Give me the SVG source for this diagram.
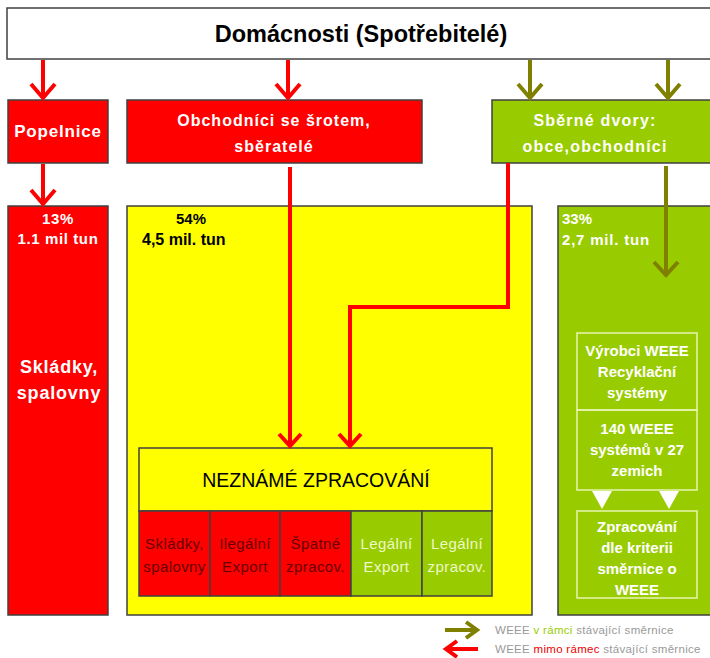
<svg xmlns="http://www.w3.org/2000/svg" width="710" height="658" viewBox="0 0 710 658">
<defs>
<style>
text{font-family:"Liberation Sans",Arial,sans-serif;}
.b{font-weight:bold;}
.w{fill:#ffffff;}
.bx{stroke:#404040;stroke-width:1.5;}
.red{fill:#ff0000;}
.yel{fill:#ffff00;}
.grn{fill:#99cc00;}
.ra{fill:none;stroke:#ff0000;stroke-width:4;}
.oa{fill:none;stroke:#808000;stroke-width:4;}
.wl{fill:none;stroke:#e8f5b0;stroke-width:1.5;}
.cell{font-size:15px;letter-spacing:0.4px;}
.in{font-size:15px;font-weight:bold;fill:#ffffff;}
</style>
</defs>
<rect width="710" height="658" fill="#ffffff"/>

<g id="domacnosti">
<rect x="7" y="8" width="710" height="51" fill="#ffffff" class="bx"/>
<text x="361" y="42" font-size="23.5" class="b" text-anchor="middle">Domácnosti (Spotřebitelé)</text>
</g>

<g id="popelnice">
<rect x="8" y="100" width="100" height="63" class="red bx"/>
<text x="58" y="137" font-size="17" class="b w" text-anchor="middle" letter-spacing="0.8">Popelnice</text>
</g>

<g id="obchodnici">
<rect x="127" y="100" width="295" height="63" class="red bx"/>
<text x="274" y="126" font-size="16" class="b w" text-anchor="middle" letter-spacing="1">Obchodníci se šrotem,</text>
<text x="274" y="152" font-size="16" class="b w" text-anchor="middle" letter-spacing="1">sběratelé</text>
</g>

<g id="sberne">
<rect x="492" y="100" width="225" height="63" class="grn bx"/>
<text x="595" y="126" font-size="16" class="b w" text-anchor="middle" letter-spacing="1.2">Sběrné dvory:</text>
<text x="595" y="152" font-size="16" class="b w" text-anchor="middle" letter-spacing="1.2">obce,obchodníci</text>
</g>

<g id="skladky">
<rect x="8" y="206" width="100" height="409" class="red bx"/>
<text x="58" y="224" font-size="15" class="b w" text-anchor="middle" letter-spacing="0.6">13%</text>
<text x="58" y="244" font-size="15" class="b w" text-anchor="middle" letter-spacing="0.6">1.1 mil tun</text>
<text x="59" y="373" font-size="18" class="b w" text-anchor="middle" letter-spacing="0.8">Skládky,</text>
<text x="59" y="399" font-size="18" class="b w" text-anchor="middle" letter-spacing="0.8">spalovny</text>
</g>

<g id="zluty">
<rect x="127" y="206" width="405" height="409" class="yel bx"/>
<text x="176" y="224" font-size="15" class="b" font-family="Liberation Serif">54%</text>
<text x="142" y="245" font-size="16" class="b">4,5 mil. tun</text>
</g>

<g id="zeleny">
<rect x="558" y="206" width="160" height="409" class="grn bx"/>
<text x="562" y="224" font-size="15" class="b w">33%</text>
<text x="562" y="245" font-size="15" class="b w" letter-spacing="0.8">2,7 mil. tun</text>
</g>

<g id="nezname">
<rect x="139" y="448" width="353" height="63" class="yel bx"/>
<text x="316" y="487" font-size="19.5" text-anchor="middle">NEZNÁMÉ ZPRACOVÁNÍ</text>
</g>

<g id="cell1">
<rect x="139" y="511" width="71" height="85" class="red bx"/>
<text x="174.5" y="549" class="cell" text-anchor="middle" fill="#660000">Skládky,</text>
<text x="174.5" y="572" class="cell" text-anchor="middle" fill="#660000">spalovny</text>
</g>
<g id="cell2">
<rect x="210" y="511" width="70" height="85" class="red bx"/>
<text x="245" y="549" class="cell" text-anchor="middle" fill="#660000">Ilegální</text>
<text x="245" y="572" class="cell" text-anchor="middle" fill="#660000">Export</text>
</g>
<g id="cell3">
<rect x="280" y="511" width="71" height="85" class="red bx"/>
<text x="315.5" y="549" class="cell" text-anchor="middle" fill="#660000">Špatné</text>
<text x="315.5" y="572" class="cell" text-anchor="middle" fill="#660000">zpracov.</text>
</g>
<g id="cell4">
<rect x="351" y="511" width="71" height="85" class="grn bx"/>
<text x="386.5" y="549" class="cell" text-anchor="middle" fill="#eef8c8">Legální</text>
<text x="386.5" y="572" class="cell" text-anchor="middle" fill="#eef8c8">Export</text>
</g>
<g id="cell5">
<rect x="422" y="511" width="70" height="85" class="grn bx"/>
<text x="457" y="549" class="cell" text-anchor="middle" fill="#eef8c8">Legální</text>
<text x="457" y="572" class="cell" text-anchor="middle" fill="#eef8c8">zpracov.</text>
</g>

<g id="vyrobci">
<rect x="577" y="333" width="120" height="77" class="wl"/>
<text x="637" y="356" class="in" text-anchor="middle">Výrobci WEEE</text>
<text x="637" y="377" class="in" text-anchor="middle">Recyklační</text>
<text x="637" y="398" class="in" text-anchor="middle">systémy</text>
</g>
<g id="systemy140">
<rect x="577" y="410" width="120" height="80" class="wl"/>
<text x="637" y="434" class="in" text-anchor="middle">140 WEEE</text>
<text x="637" y="455" class="in" text-anchor="middle">systémů v 27</text>
<text x="637" y="476" class="in" text-anchor="middle">zemich</text>
</g>
<g id="zpracovani">
<rect x="577" y="511" width="120" height="87" class="wl"/>
<text x="637" y="532" class="in" text-anchor="middle">Zpracování</text>
<text x="637" y="553" class="in" text-anchor="middle">dle kriterii</text>
<text x="637" y="574" class="in" text-anchor="middle">směrnice o</text>
<text x="637" y="595" class="in" text-anchor="middle">WEEE</text>
</g>

<g id="connectors">
<path class="ra" d="M43 60V98M31 84L43 98L55 84"/>
<path class="ra" d="M288 60V98M276 84L288 98L300 84"/>
<path class="oa" d="M530 60V98M518 84L530 98L542 84"/>
<path class="oa" d="M668 60V98M656 84L668 98L680 84"/>
<path class="ra" d="M43 164V204M31 190L43 204L55 190"/>
<path class="ra" d="M290 167V446M279 434L290 446L301 434"/>
<path class="ra" d="M508 163V307H350V446M339 434L350 446L361 434"/>
<path class="oa" d="M666 166V275M654 262L666 275L678 262"/>
<path d="M592 491H612L602 509Z" fill="#ffffff"/>
<path d="M659 491H679L669 509Z" fill="#ffffff"/>
</g>

<g id="legenda">
<path class="oa" d="M445 630H477M466 622L477 630L466 638"/>
<path class="ra" d="M478 649H446M457 641L446 649L457 657"/>
<text x="495" y="634" font-size="11.5" fill="#999999" letter-spacing="0.3">WEEE <tspan fill="#99cc00">v rámci</tspan> stávající směrnice</text>
<text x="495" y="653" font-size="11.5" fill="#999999" letter-spacing="0.3">WEEE <tspan fill="#ee0000">mimo rámec</tspan> stávající směrnice</text>
</g>
</svg>
